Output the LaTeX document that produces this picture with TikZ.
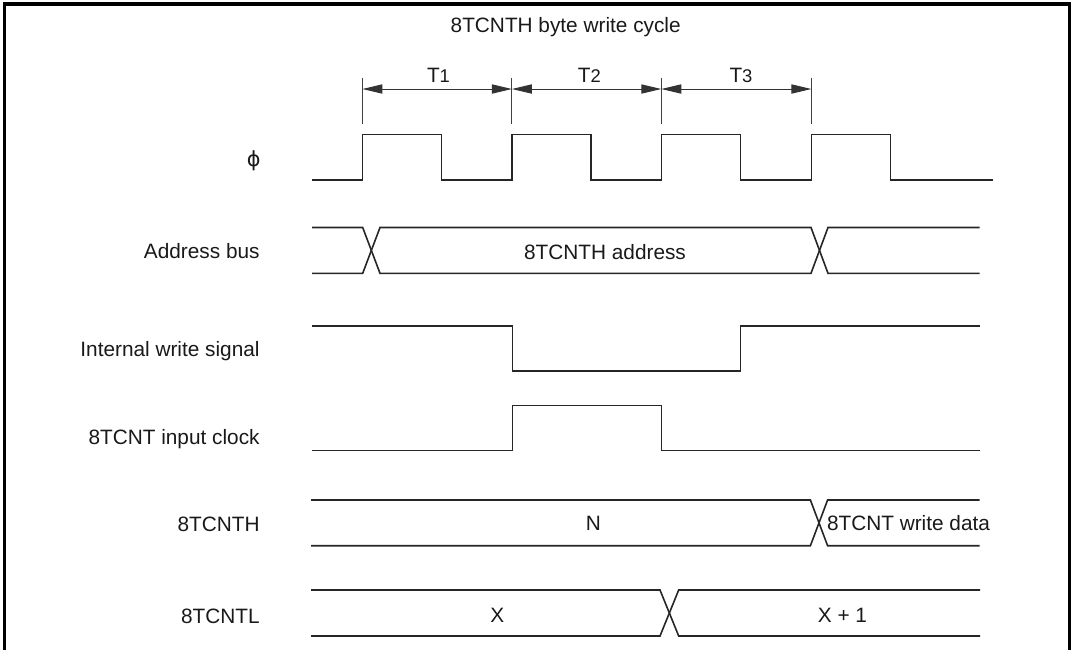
\documentclass[tikz,border=0pt]{standalone}
\usepackage{fontspec}
\setmainfont{Liberation Sans}
\newfontfamily\symfont{DejaVu Sans}
\usetikzlibrary{arrows.meta}

\newcommand{\tsub}[1]{{\fontsize{9.2}{10}\selectfont #1}}

\begin{document}
\begin{tikzpicture}[x=0.5pt, y=-0.5pt, every node/.style={font=\fontsize{10.4}{12}\selectfont, inner sep=0pt, text=black!90}, sig/.style={line width=0.8pt, black!85}, txt/.style={anchor=base}, lbl/.style={anchor=base east}, dim/.style={{Triangle[length=10pt,width=4.6pt]}-{Triangle[length=10pt,width=4.6pt]}, line width=0.5pt, black!80}, tickline/.style={line width=0.5pt, black!75}, frame/.style={line width=1.6pt}]
\useasboundingbox (0,0) rectangle (1073,650);
\draw[frame] (4.3,650) -- (4.3,4) -- (1069.3,4) -- (1069.3,650);

% cycle states
\node[txt] (title) at (565.7,32.6) {8TCNTH byte write cycle};
\foreach \i/\x in {0/362.4,1/511.9,2/661.3,3/811.4} {
  \coordinate (t\i) at (\x,89);
  \draw[tickline] (\x,78) -- (\x,124);
}
\draw[dim] (t0) -- (t1);
\draw[dim] (t1) -- (t2);
\draw[dim] (t2) -- (t3);
\node[txt] (T1) at (438.5,82.3) {T\tsub{1}};
\node[txt] (T2) at (589.4,82.3) {T\tsub{2}};
\node[txt] (T3) at (741,82.3) {T\tsub{3}};

% signal names
\node[anchor=east] (phi) at (261,161) {\symfont ϕ};
\node[lbl] (abus) at (260,258.7) {Address bus};
\node[lbl] (wsig) at (260,356.8) {Internal write signal};
\node[lbl] (iclk) at (260,444) {8TCNT input clock};
\node[lbl] (cnth) at (260,531.5) {8TCNTH};
\node[lbl] (cntl) at (260,623) {8TCNTL};

% waveforms
\draw[sig] (312,180) foreach \r in {362.4,511.9,661.3,811.4} { -- (\r,180) -- (\r,134.3) -- ({\r+79},134.3) -- ({\r+79},180) } -- (993,180);

\draw[sig] (312,227.5) -- (362.7,227.5) -- (380,273.3) -- (811,273.3) -- (828,227.5) -- (979.5,227.5);
\draw[sig] (312,273.3) -- (362.7,273.3) -- (380,227.5) -- (811,227.5) -- (828,273.3) -- (979.5,273.3);
\node[txt] (addr) at (605,259) {8TCNTH address};

\draw[sig] (312,326) -- (512.3,326) -- (512.3,370.7) -- (740.6,370.7) -- (740.6,326) -- (979.5,326);

\draw[sig] (312,450.5) -- (512.3,450.5) -- (512.3,405.5) -- (661.5,405.5) -- (661.5,450.5) -- (980,450.5);

\draw[sig] (311,500) -- (810.4,500) -- (827.6,545.7) -- (979.5,545.7);
\draw[sig] (311,545.7) -- (810.4,545.7) -- (827.6,500) -- (979.5,500);
\node[txt] (valN) at (593.4,530.6) {N};
\node[txt] (wdata) at (908.5,530.6) {8TCNT write data};

\draw[sig] (311,590) -- (660,590) -- (678.7,636) -- (980,636);
\draw[sig] (311,636) -- (660,636) -- (678.7,590) -- (980,590);
\node[txt] (valX) at (497.2,622.3) {X};
\node[txt] (valXa) at (842.5,622.3) {X + 1};
\end{tikzpicture}
\end{document}
